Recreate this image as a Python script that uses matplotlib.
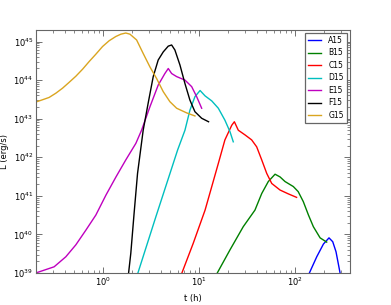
import matplotlib
matplotlib.use("Agg")
import matplotlib.pyplot as plt

# t (h) and log10 L (erg/s)
a15_t = [135, 140, 167, 196, 224, 245, 265, 292, 300]
a15_l = [38.8, 39.0, 39.42, 39.75, 39.91, 39.81, 39.55, 39.0, 38.8]

b15_t = [14.0, 15.4, 20.9, 28.7, 38.0, 44.7, 52.3, 61.5, 69.3, 78.1, 95.3, 107, 121, 137, 154, 181, 212]
b15_l = [38.7, 39.0, 39.60, 40.20, 40.63, 41.06, 41.37, 41.56, 41.49, 41.37, 41.24, 41.11, 40.85,
         40.50, 40.20, 39.91, 39.80]

c15_t = [6.2, 6.6, 8.66, 11.5, 13.5, 15.8, 18.5, 21.8, 23.2, 25.5, 29.9, 35.1, 39.6, 44.7, 50.4,
         56.8, 69.3, 84.6, 103]
c15_l = [38.7, 39.0, 39.77, 40.63, 41.24, 41.84, 42.45, 42.83, 42.92, 42.70, 42.58, 42.45, 42.27,
         41.93, 41.58, 41.32, 41.15, 41.05, 40.96]

d15_t = [2.2, 2.30, 3.54, 5.96, 7.10, 8.00, 9.02, 10.2, 11.5, 13.5, 15.8, 18.5, 20.9, 22.6]
d15_l = [38.7, 39.0, 40.46, 42.19, 42.70, 43.22, 43.57, 43.73, 43.59, 43.46, 43.27, 42.96, 42.66, 42.40]

e15_t = [0.199, 0.309, 0.409, 0.520, 0.661, 0.839, 1.07, 1.36, 1.72, 2.19, 2.51, 3.07, 3.74, 4.39,
         4.76, 5.16, 5.82, 7.10, 8.34, 9.40, 10.6]
e15_l = [39.0, 39.16, 39.42, 39.73, 40.11, 40.50, 41.02, 41.49, 41.93, 42.36, 42.70, 43.31, 43.87,
         44.17, 44.30, 44.17, 44.09, 44.0, 43.83, 43.57, 43.27]

f15_t = [1.80, 1.84, 1.94, 2.10, 2.28, 2.61, 2.94, 3.32, 3.74, 4.22, 4.76, 5.16, 5.58, 6.30, 7.10,
         8.00, 9.02, 10.6, 12.5]
f15_l = [38.7, 39.0, 39.51, 40.55, 41.58, 42.70, 43.40, 44.09, 44.52, 44.73, 44.88, 44.91, 44.78,
         44.39, 43.91, 43.48, 43.18, 43.01, 42.92]

g15_t = [0.199, 0.234, 0.274, 0.322, 0.378, 0.442, 0.520, 0.610, 0.715, 0.839, 0.986, 1.155, 1.356,
         1.53, 1.72, 1.90, 2.23, 2.61, 3.07, 3.60, 4.22, 4.95, 5.82, 7.39, 9.02]
g15_l = [43.43, 43.49, 43.55, 43.66, 43.79, 43.94, 44.10, 44.28, 44.48, 44.67, 44.87, 45.02, 45.13,
         45.19, 45.22, 45.19, 45.04, 44.69, 44.34, 44.04, 43.70, 43.44, 43.27, 43.15, 43.07]

series = [
    ("A15", a15_t, a15_l, "b"),
    ("B15", b15_t, b15_l, "g"),
    ("C15", c15_t, c15_l, "r"),
    ("D15", d15_t, d15_l, "c"),
    ("E15", e15_t, e15_l, "m"),
    ("F15", f15_t, f15_l, "k"),
    ("G15", g15_t, g15_l, "#DAA520"),
]

plt.rcParams["font.family"] = "DejaVu Sans"
fig = plt.figure(figsize=(3.91, 3.05), dpi=100)
ax = fig.add_axes([0.092, 0.105, 0.803, 0.797])

for name, t, logl, color in series:
    ax.plot(t, [10 ** v for v in logl], color=color, linewidth=1.0, label=name)

ax.set_xscale("log")
ax.set_yscale("log")
ax.set_xlim(0.2, 370)
ax.set_ylim(1e39, 2e45)
ax.set_xlabel("t (h)", fontsize=6)
ax.set_ylabel("L (erg/s)", fontsize=6)
ax.xaxis.set_label_coords(0.5, -0.085)
ax.yaxis.set_label_coords(-0.085, 0.5)
ax.tick_params(which="both", direction="in", top=True, right=True, labelsize=6, color="0.35")
ax.tick_params(which="major", length=4, width=0.6, pad=2)
ax.tick_params(which="minor", length=2, width=0.5)
for s in ax.spines.values():
    s.set_color("0.4")
    s.set_linewidth(0.8)

leg = ax.legend(loc="upper right", fontsize=5.5, handlelength=1.6, handletextpad=1.0,
                borderaxespad=0.4, fancybox=False, framealpha=1, labelspacing=0.45)
leg.get_frame().set_edgecolor("0.4")
leg.get_frame().set_linewidth(0.9)

fig.savefig("out.png", dpi=100)
